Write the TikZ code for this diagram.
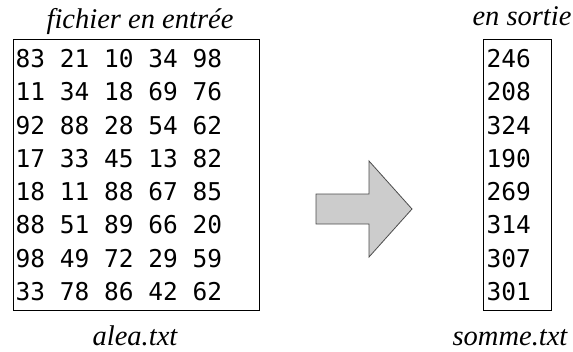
\documentclass[tikz,border=0pt]{standalone}
\usepackage{fontspec}
\setmainfont{Liberation Serif}
\setmonofont{DejaVu Sans Mono}
\begin{document}
\begin{tikzpicture}[x=1pt,y=-1pt,
  filebox/.style={draw=black,line width=1pt},
  numline/.style={anchor=west,inner sep=0pt,font=\fontsize{24.5}{24.5}\selectfont\ttfamily},
  caption/.style={anchor=base,inner sep=0pt,font=\fontsize{28.5}{28.5}\selectfont\itshape},
  bigarrow/.style={fill=black!20,draw=black!70,line width=0.8pt}]
\useasboundingbox (0,0) rectangle (573,351);
\draw[filebox] (13,39) rectangle (259,310);
\draw[filebox] (483,39) rectangle (551,310);
\foreach \t [count=\i from 0] in {83 21 10 34 98,11 34 18 69 76,92 88 28 54 62,17 33 45 13 82,18 11 88 67 85,88 51 89 66 20,98 49 72 29 59,33 78 86 42 62}
  \node[numline] (l\i) at (15.5,{58.5+33.3*\i}) {\t};
\foreach \t [count=\i from 0] in {246,208,324,190,269,314,307,301}
  \node[numline] (r\i) at (486.5,{58.5+33.3*\i}) {\t};
\node[caption] (t1) at (140,28) {fichier en entrée};
\node[caption] (t2) at (522,25) {en sortie};
\node[caption] (b1) at (135,345) {alea.txt};
\node[caption] (b2) at (510,345) {somme.txt};
\draw[bigarrow] (316,194) -- (369,194) -- (369,161) -- (412,209) -- (369,257) -- (369,224) -- (316,224) -- cycle;
\end{tikzpicture}
\end{document}
